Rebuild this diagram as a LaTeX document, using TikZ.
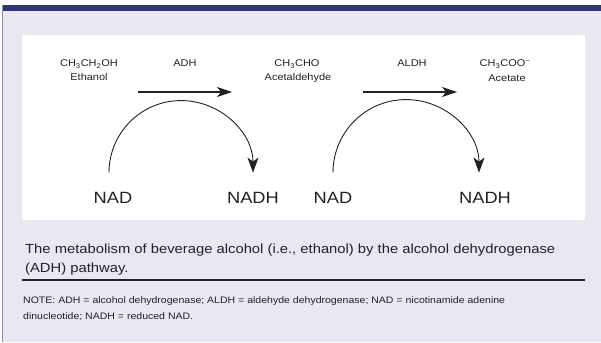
\documentclass[tikz,border=0pt]{standalone}
\usepackage{fontspec}
\setmainfont{Liberation Sans}[FakeStretch=1.12]
\usetikzlibrary{arrows.meta}
\definecolor{navybar}{HTML}{2D3672}
\definecolor{lavender}{HTML}{E9E7F2}
\definecolor{edgegray}{HTML}{8C8CA2}
\definecolor{inkgray}{HTML}{222222}

\begin{document}
\begin{tikzpicture}[x=1pt,y=-1pt,
  chem/.style={inner sep=0pt, anchor=base, text=inkgray, font=\fontsize{9.8}{12}\selectfont},
  cofactor/.style={inner sep=0pt, anchor=base, text=inkgray, font=\fontsize{16.3}{19}\selectfont},
  captext/.style={inner sep=0pt, anchor=base west, text=inkgray, font=\fontsize{13.2}{16}\selectfont},
  notetext/.style={inner sep=0pt, anchor=base west, text=inkgray, font=\fontsize{9.4}{11}\selectfont},
  rxnarrow/.style={-{Stealth[length=15pt,width=10pt,inset=4pt]}, line width=1.3pt, inkgray},
  cycarrow/.style={-{Stealth[length=15pt,width=11pt,inset=4pt]}, line width=0.9pt, inkgray}]
  \useasboundingbox (0,0) rectangle (601,342);
  % frame and panel
  \fill[lavender] (2,11) rectangle (601,342);
  \fill[navybar] (2,5) rectangle (601,11.5);
  \draw[edgegray, line width=1.2pt] (2.6,5) -- (2.6,342);
  \fill[white] (22,35) rectangle (585,220);
  % compounds and enzymes
  \node[chem] (ethf) at (89,67) {CH\textsubscript{3}CH\textsubscript{2}OH};
  \node[chem] (ethn) at (89,81) {Ethanol};
  \node[chem] (adh) at (185,67) {ADH};
  \node[chem] (acdf) at (297,67) {CH\textsubscript{3}CHO};
  \node[chem] (acdn) at (298,81) {Acetaldehyde};
  \node[chem] (aldh) at (412,67) {ALDH};
  \node[chem] (actf) at (505,67) {CH\textsubscript{3}COO\textsuperscript{−}};
  \node[chem] (actn) at (507,81.5) {Acetate};
  % reaction arrows
  \coordinate (rxa) at (138,92);
  \coordinate (rxb) at (232,92);
  \coordinate (rxc) at (363,92);
  \coordinate (rxd) at (457,92);
  \draw[rxnarrow] (rxa) -- (rxb);
  \draw[rxnarrow] (rxc) -- (rxd);
  % cofactors
  \node[cofactor] (nada) at (113,203) {NAD};
  \node[cofactor] (nadha) at (253,203) {NADH};
  \node[cofactor] (nadb) at (333,203) {NAD};
  \node[cofactor] (nadhb) at (485,203) {NADH};
  \draw[cycarrow] ([xshift=-4pt,yshift=19pt]nada.north) arc[start angle=180, end angle=0, radius=72pt];
  \draw[cycarrow] ([yshift=19pt]nadb.north) arc[start angle=180, end angle=0, radius=73pt];
  % caption
  \node[captext] (capa) at (25,253) {The metabolism of beverage alcohol (i.e., ethanol) by the alcohol dehydrogenase};
  \node[captext] (capb) at (25,272) {(ADH) pathway.};
  \draw[inkgray, line width=1.2pt] (22,280) -- (585,280);
  \node[notetext] (notea) at (23,303) {NOTE: ADH = alcohol dehydrogenase; ALDH = aldehyde dehydrogenase; NAD = nicotinamide adenine};
  \node[notetext] (noteb) at (23,319) {dinucleotide; NADH = reduced NAD.};
\end{tikzpicture}
\end{document}
